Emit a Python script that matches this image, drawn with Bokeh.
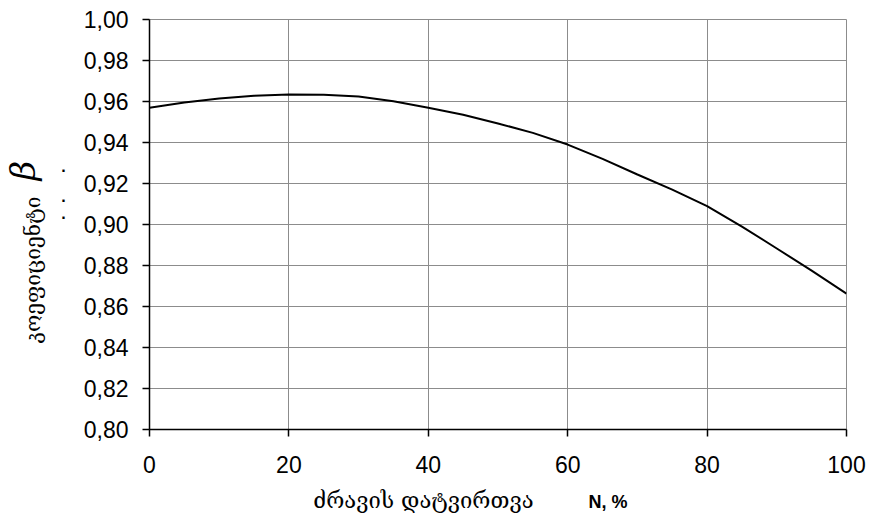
from bokeh.plotting import figure
from bokeh.models import FixedTicker, Range1d, LinearAxis
from bokeh.embed import file_html
from bokeh.resources import INLINE

# ---- data ----
load_pct = [0, 5, 10, 15, 20, 25, 30, 35, 40, 45, 50,
            55, 60, 65, 70, 75, 80, 85, 90, 95, 100]
beta = [0.9570, 0.9595, 0.9615, 0.9628, 0.9634, 0.9633, 0.9624, 0.9601, 0.9570, 0.9535, 0.9493,
        0.9447, 0.9390, 0.9320, 0.9244, 0.9170, 0.9090, 0.8990, 0.8883, 0.8775, 0.8663]
x_ticks = [0, 20, 40, 60, 80, 100]
x_tick_labels = ["0", "20", "40", "60", "80", "100"]
y_ticks = [0.80, 0.82, 0.84, 0.86, 0.88, 0.90, 0.92, 0.94, 0.96, 0.98, 1.00]
y_tick_labels = ["0,80", "0,82", "0,84", "0,86", "0,88", "0,90",
                 "0,92", "0,94", "0,96", "0,98", "1,00"]
x_title = "ძრავის დატვირთვა"
x_unit = "N, %"
y_title = "კოეფიციენტი"
y_symbol = "β"
y_marks = ["·", "·", "·"]

# ---- title anchor positions (layout, in axis units) ----
X_TITLE_AT = 39.3
X_UNIT_AT = 65.8
Y_TITLE_AT = 0.8778
Y_SYMBOL_AT = 0.9263
Y_MARKS_AT = [0.9263, 0.9117, 0.9034]

GRID = "#8c8c8c"
TICK_FONT = "Liberation Sans"
GEO_FONT = "DejaVu Serif"

p = figure(width=869, height=519, output_backend="svg", toolbar_location=None,
           x_range=Range1d(0, 100), y_range=Range1d(0.80, 1.00),
           min_border_left=149, min_border_right=23,
           min_border_top=19, min_border_bottom=90)

p.background_fill_color = "white"
p.border_fill_color = "white"
p.outline_line_color = GRID
p.outline_line_width = 1

p.line(load_pct, beta, line_color="black", line_width=2)

for ax in (p.xaxis[0], p.yaxis[0]):
    ax.axis_line_color = "black"
    ax.axis_line_width = 1.5
    ax.major_tick_line_color = "black"
    ax.major_tick_line_width = 1.5
    ax.major_tick_out = 7
    ax.major_tick_in = 0
    ax.minor_tick_line_color = None
    ax.major_label_text_font = TICK_FONT
    ax.major_label_text_font_size = "23px"
    ax.major_label_text_color = "black"

p.xaxis[0].ticker = FixedTicker(ticks=x_ticks)
p.yaxis[0].ticker = FixedTicker(ticks=y_ticks)
p.xaxis[0].major_label_overrides = dict(zip(x_ticks, x_tick_labels))
p.yaxis[0].major_label_overrides = dict(zip(y_ticks, y_tick_labels))
p.xaxis[0].major_label_standoff = 19
p.yaxis[0].major_label_standoff = 14

p.xgrid.ticker = FixedTicker(ticks=x_ticks)
p.ygrid.ticker = FixedTicker(ticks=y_ticks)
p.xgrid.grid_line_color = GRID
p.ygrid.grid_line_color = GRID
p.xgrid.grid_line_width = 1
p.ygrid.grid_line_width = 1


def text_axis(side, ticks, labels, font, size, standoff, style="normal",
              orientation="horizontal"):
    ax = LinearAxis(ticker=FixedTicker(ticks=ticks),
                    major_label_overrides=dict(zip(ticks, labels)))
    ax.axis_line_color = None
    ax.major_tick_line_color = None
    ax.minor_tick_line_color = None
    ax.major_tick_out = 0
    ax.major_tick_in = 0
    ax.major_label_text_font = font
    ax.major_label_text_font_size = size
    ax.major_label_text_font_style = style
    ax.major_label_text_color = "black"
    ax.major_label_standoff = standoff
    ax.major_label_orientation = orientation
    p.add_layout(ax, side)
    return ax


# left side, from the frame outwards
text_axis("left", Y_MARKS_AT, y_marks, TICK_FONT, "16px", 14, style="bold")
text_axis("left", [Y_TITLE_AT], [y_title], GEO_FONT, "21px", 13, orientation="parallel")
text_axis("left", [Y_SYMBOL_AT], [y_symbol], "DejaVu Serif", "34px", -25,
          style="italic", orientation="parallel")

# below, from the frame outwards
text_axis("below", [X_TITLE_AT], [x_title], GEO_FONT, "22px", 12)
text_axis("below", [X_UNIT_AT], [x_unit], TICK_FONT, "18px", -24, style="bold")

open("out.html", "w").write(file_html(p, INLINE))
